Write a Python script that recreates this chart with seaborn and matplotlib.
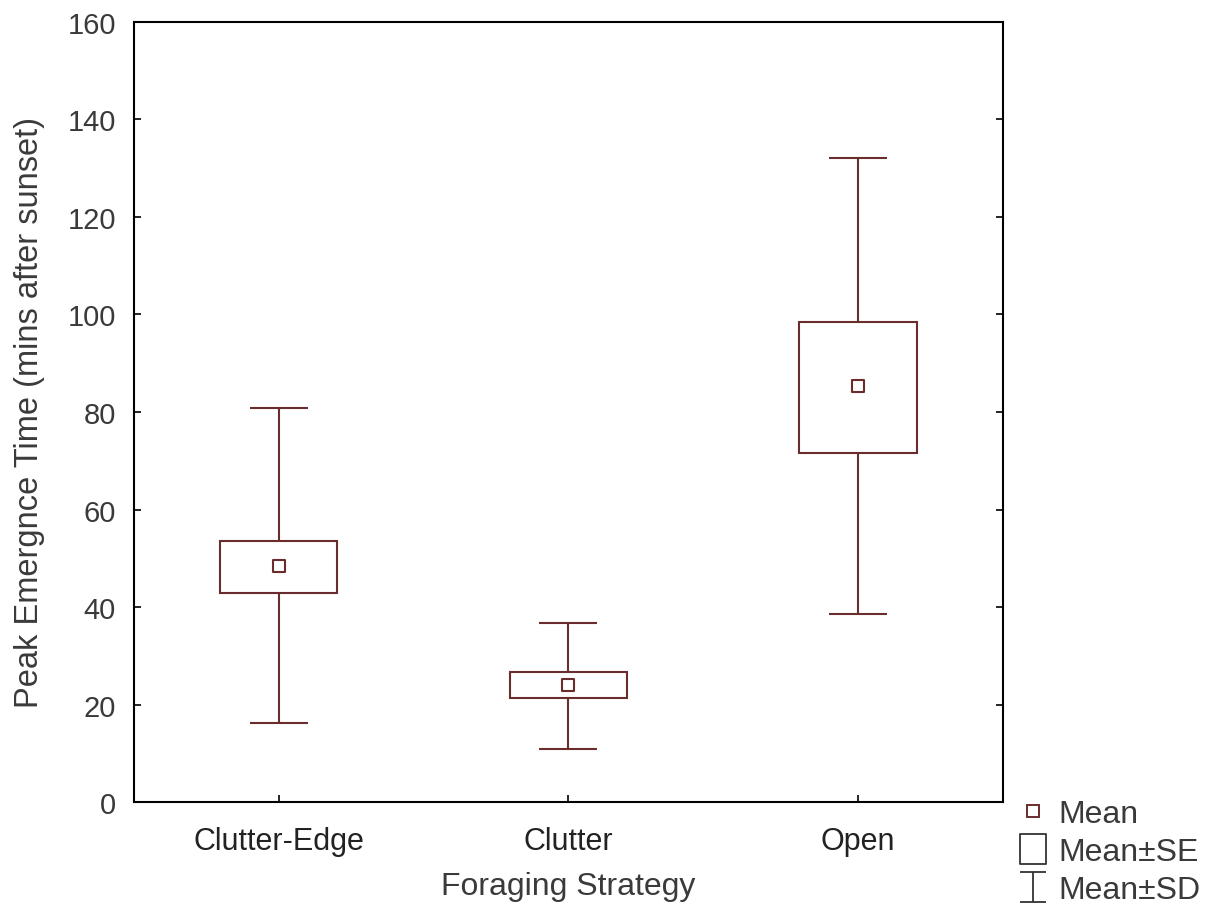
import numpy as np
import pandas as pd
import matplotlib
matplotlib.use("Agg")
import matplotlib.pyplot as plt
import seaborn as sns
from matplotlib.lines import Line2D
from matplotlib.path import Path

categories = ["Clutter-Edge", "Clutter", "Open"]
means = [48.4, 24.0, 85.3]
se_low = [42.9, 21.3, 71.6]
se_high = [53.5, 26.7, 98.5]
sd_low = [16.2, 10.9, 38.6]
sd_high = [80.8, 36.7, 132.1]
y_ticks = [0, 20, 40, 60, 80, 100, 120, 140, 160]

color = "#6a2d2d"
text_color = "#3a3a3a"

sns.set_theme(style="white")
plt.rcParams["font.family"] = ["Liberation Sans", "DejaVu Sans"]

fig = plt.figure(figsize=(12.17, 9.12), dpi=100)
ax = fig.add_axes([0.110, 0.1195, 0.714, 0.8553])

df = pd.DataFrame({"cat": categories, "mean": means})
pos = np.arange(len(categories))

lw = 1.5
# whiskers (Mean ± SD)
ax.vlines(pos, sd_low, se_low, color=color, lw=lw, zorder=2)
ax.vlines(pos, se_high, sd_high, color=color, lw=lw, zorder=2)
ax.hlines(sd_low, pos - 0.1, pos + 0.1, color=color, lw=lw, zorder=2)
ax.hlines(sd_high, pos - 0.1, pos + 0.1, color=color, lw=lw, zorder=2)
# boxes (Mean ± SE)
ax.bar(pos, np.array(se_high) - np.array(se_low), bottom=se_low, width=0.405,
       facecolor="white", edgecolor=color, linewidth=lw, zorder=3)
# means
sns.scatterplot(data=df, x="cat", y="mean", marker="s", s=80, facecolor="white",
                edgecolor=color, linewidth=lw, ax=ax, zorder=4, legend=False)

ax.set_xlim(-0.5, 2.5)
ax.set_ylim(0, 160)
ax.set_yticks(y_ticks)
ax.set_xticks(pos)
ax.set_xticklabels(categories)
ax.set_xlabel("Foraging Strategy", fontsize=23, color=text_color)
ax.set_ylabel("Peak Emergnce Time (mins after sunset)", fontsize=23.5, color=text_color)
ax.xaxis.set_label_coords(0.5, -0.089)
ax.yaxis.set_label_coords(-0.102, 0.5)
ax.tick_params(axis="y", direction="in", length=5, width=1.2, labelsize=21,
               colors="black", labelcolor=text_color, right=True, left=True, pad=13)
ax.tick_params(axis="x", direction="in", length=5, width=1.2, labelsize=22,
               colors="black", labelcolor="#222222", bottom=True, pad=17)
for s in ax.spines.values():
    s.set_visible(True)
    s.set_color("black")
    s.set_linewidth(1.5)

# legend
i_path = Path([(-0.9, 1), (0.9, 1), (0, 1), (0, -1), (-0.9, -1), (0.9, -1)],
              [Path.MOVETO, Path.LINETO, Path.MOVETO, Path.LINETO, Path.MOVETO, Path.LINETO])
rect_path = Path([(-0.87, -1), (0.87, -1), (0.87, 1), (-0.87, 1), (-0.87, -1)],
                 [Path.MOVETO, Path.LINETO, Path.LINETO, Path.LINETO, Path.CLOSEPOLY])
handles = [
    Line2D([], [], ls="none", marker="s", markersize=8.3, markerfacecolor="white",
           markeredgecolor=color, markeredgewidth=1.4),
    Line2D([], [], ls="none", marker=rect_path, markersize=21.5, markerfacecolor="white",
           markeredgecolor="#333333", markeredgewidth=1.3),
    Line2D([], [], ls="none", marker=i_path, markersize=21, markeredgecolor="#333333",
           markeredgewidth=1.3),
]
fig.legend(handles, ["Mean", "Mean±SE", "Mean±SD"], loc="upper left",
           bbox_to_anchor=(0.8365, 0.123), frameon=False, fontsize=23,
           handlelength=0.95, handletextpad=0.3, labelspacing=0.25,
           borderpad=0, borderaxespad=0, labelcolor=text_color)

fig.savefig("out.png", dpi=100)
